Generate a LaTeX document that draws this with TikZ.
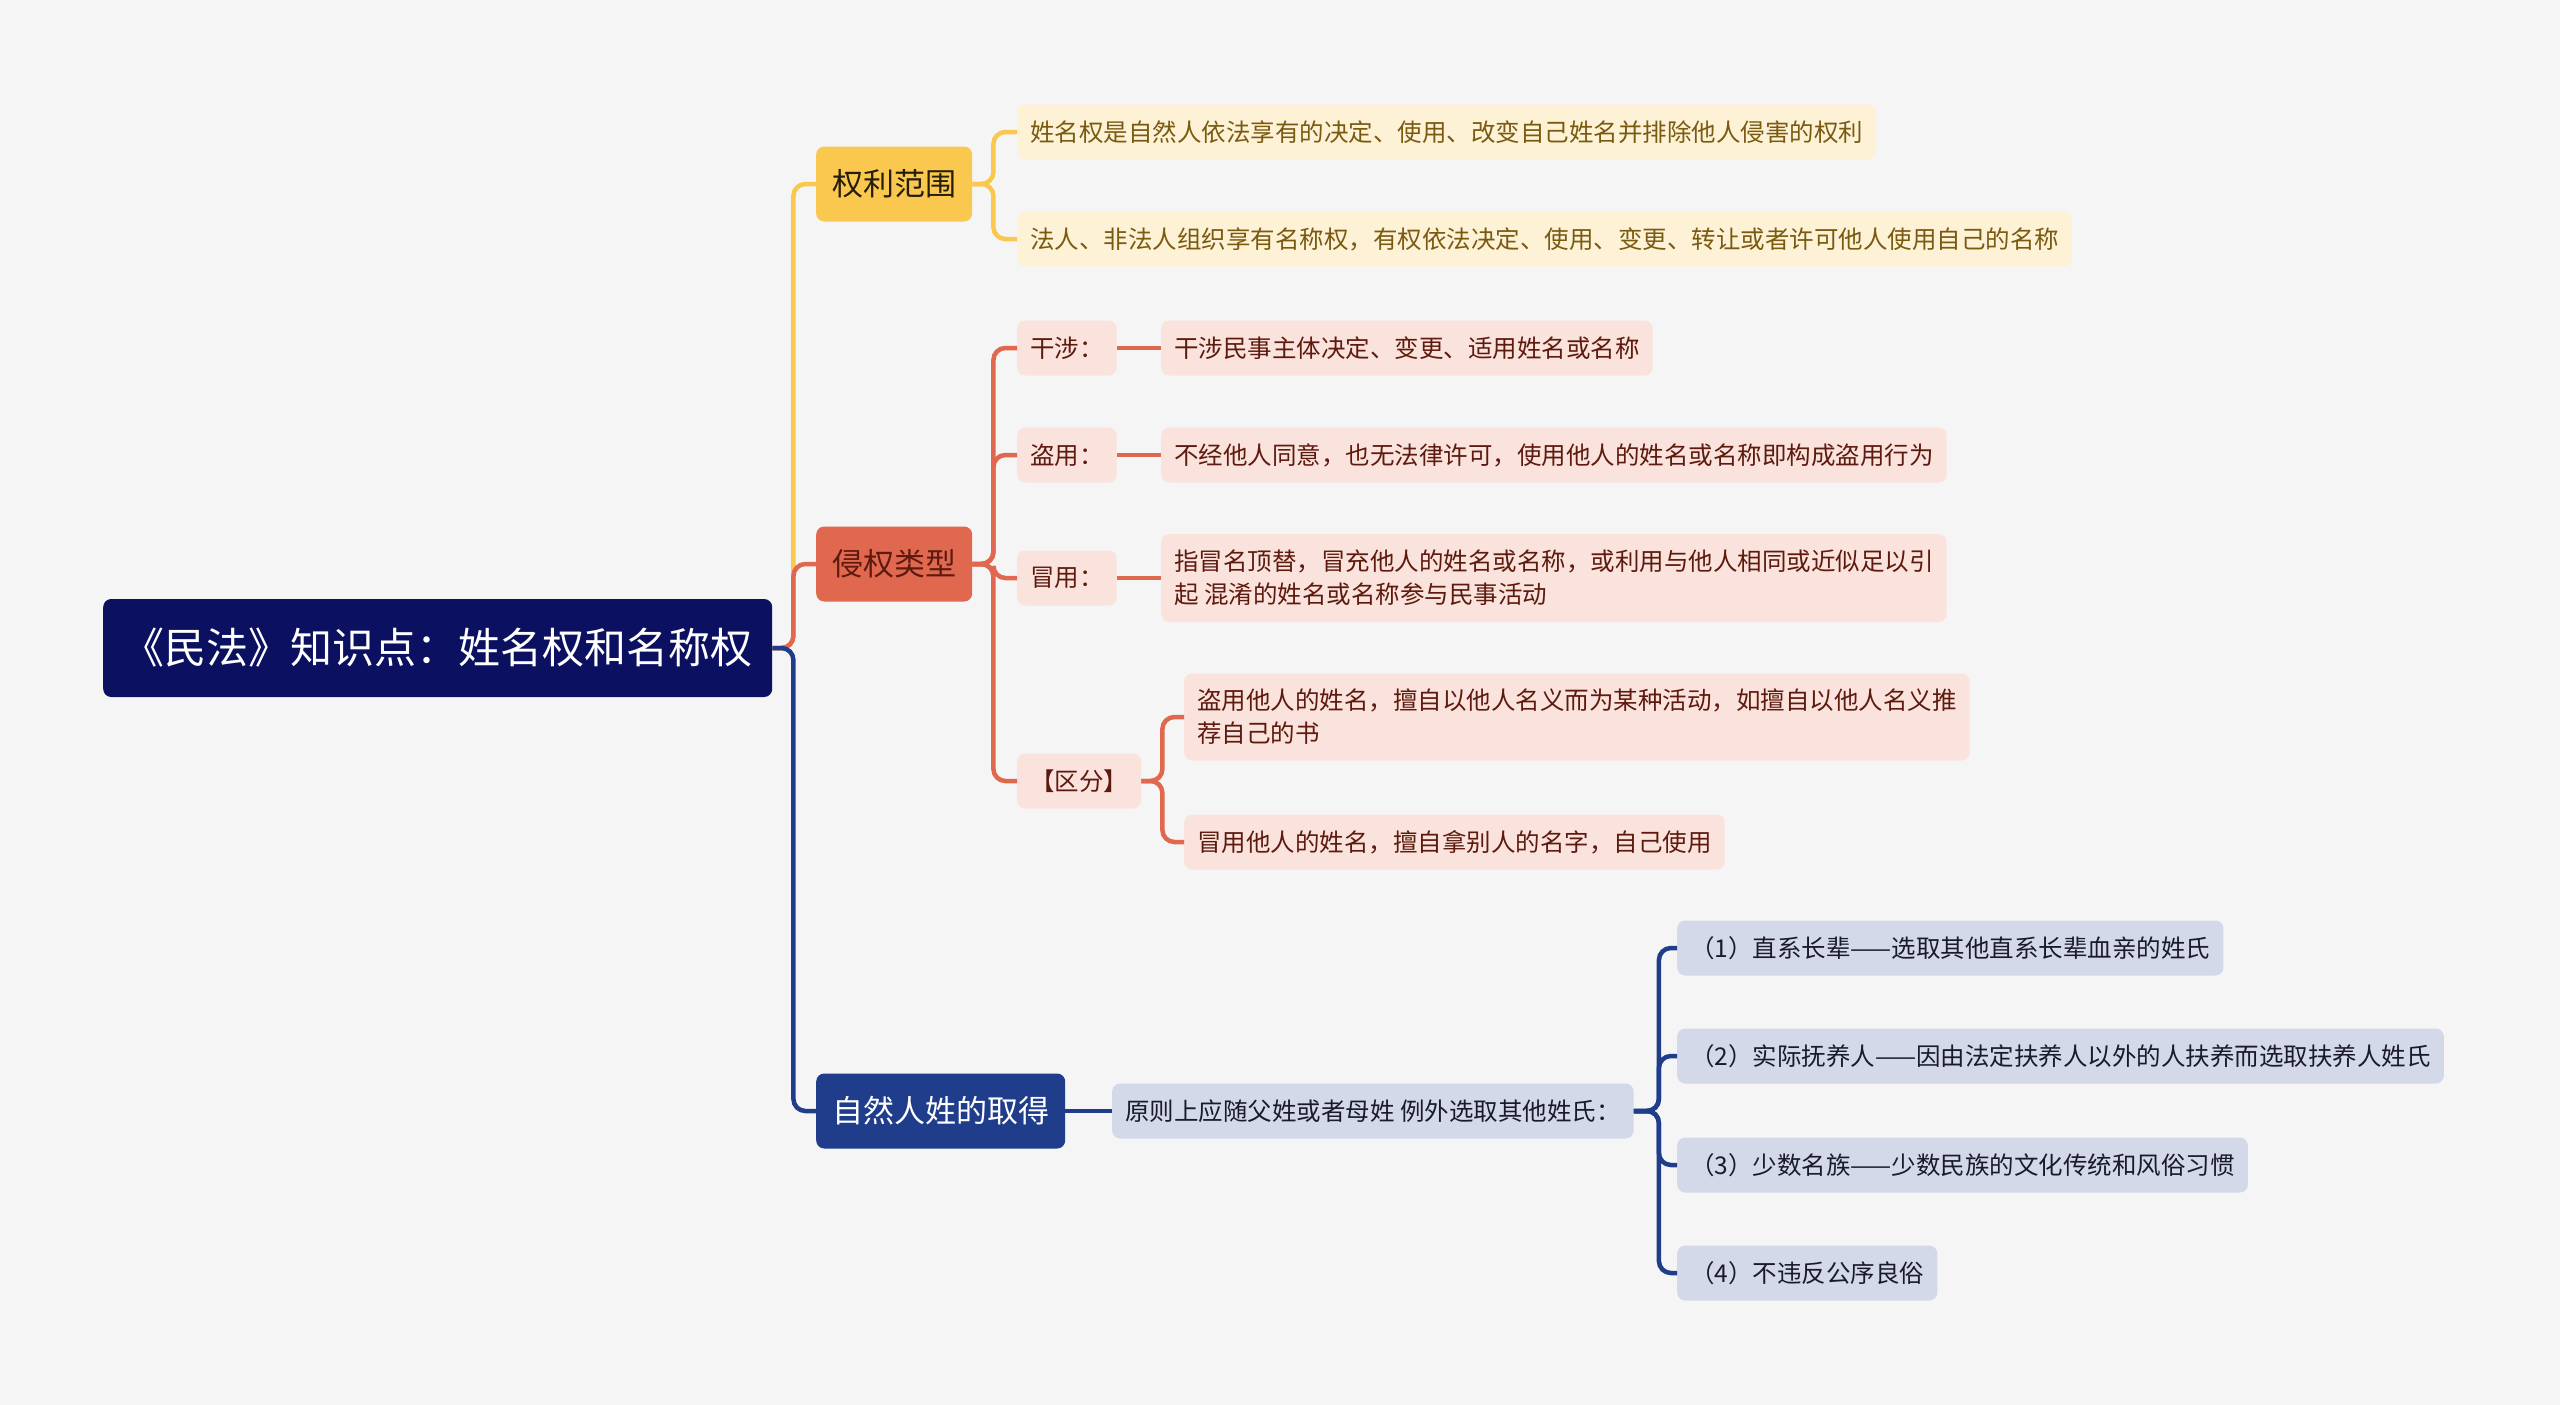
\documentclass[tikz,border=0pt]{standalone}
\usepackage{fontspec}
\setmainfont{Noto Sans CJK SC}
\definecolor{bg}{HTML}{F5F5F5}
\definecolor{rootc}{HTML}{0B1160}
\definecolor{yel}{HTML}{FAC84E}
\definecolor{yelleaf}{HTML}{FDF2D6}
\definecolor{yeltext}{HTML}{7A5A10}
\definecolor{red}{HTML}{E0684F}
\definecolor{redleaf}{HTML}{FAE3DC}
\definecolor{redtext}{HTML}{5E1A0E}
\definecolor{blu}{HTML}{1F3D8B}
\definecolor{bluleaf}{HTML}{D4D9E9}
\definecolor{blutext}{HTML}{1A1A2A}
\tikzset{
  rootbox/.style={fill=rootc, text=white, rounded corners=8pt, anchor=west,
    font=\fontsize{42}{48}\selectfont, minimum height=98pt, minimum width=669pt, inner xsep=0pt},
  lvone/.style={rounded corners=8pt, anchor=west, font=\fontsize{31}{38}\selectfont,
    minimum height=75pt, inner xsep=16pt},
  leaf/.style={rounded corners=8pt, anchor=west, font=\fontsize{24.5}{33}\selectfont,
    minimum height=55pt, inner xsep=13pt, inner ysep=0pt, align=left},
  yleaf/.style={leaf, fill=yelleaf, text=yeltext},
  rleaf/.style={leaf, fill=redleaf, text=redtext},
  bleaf/.style={leaf, fill=bluleaf, text=blutext},
  conn/.style={line width=4.5pt, rounded corners=12pt},
  yline/.style={conn, draw=yel},
  rline/.style={conn, draw=red},
  bline/.style={conn, draw=blu},
}
\begin{document}
\begin{tikzpicture}[x=1pt,y=-1pt]
\fill[bg] (0,0) rectangle (2560,1405);
\useasboundingbox (0,0) rectangle (2560,1405);

% root
\node[rootbox] (root) at (103,648) {《民法》知识点：姓名权和名称权};

% level 1
\node[lvone, fill=yel, text=black!85!yel] (qlfw) at (816,184) {权利范围};
\node[lvone, fill=red, text=redtext] (qqlx) at (816,564) {侵权类型};
\node[lvone, fill=blu, text=white] (zrr) at (816,1111) {自然人姓的取得};

% yellow leaves
\node[yleaf] (y1) at (1017,132) {姓名权是自然人依法享有的决定、使用、改变自己姓名并排除他人侵害的权利};
\node[yleaf] (y2) at (1017,239) {法人、非法人组织享有名称权，有权依法决定、使用、变更、转让或者许可他人使用自己的名称};

% red
\node[rleaf] (gs) at (1017,348) {干涉：};
\node[rleaf] (gsl) at (1161,348) {干涉民事主体决定、变更、适用姓名或名称};
\node[rleaf] (dy) at (1017,455) {盗用：};
\node[rleaf] (dyl) at (1161,455) {不经他人同意，也无法律许可，使用他人的姓名或名称即构成盗用行为};
\node[rleaf] (my) at (1017,578) {冒用：};
\node[rleaf, minimum height=88pt] (myl) at (1161,578) {指冒名顶替，冒充他人的姓名或名称，或利用与他人相同或近似足以引\\起 混淆的姓名或名称参与民事活动};
\node[rleaf] (qf) at (1017,781) {【区分】};
\node[rleaf, minimum height=87pt] (qf1) at (1184,717) {盗用他人的姓名，擅自以他人名义而为某种活动，如擅自以他人名义推\\荐自己的书};
\node[rleaf] (qf2) at (1184,842) {冒用他人的姓名，擅自拿别人的名字，自己使用};

% blue
\node[bleaf] (yz) at (1112,1111) {原则上应随父姓或者母姓 例外选取其他姓氏：};
\node[bleaf] (b1) at (1677,948) {（1）直系长辈——选取其他直系长辈血亲的姓氏};
\node[bleaf] (b2) at (1677,1056) {（2）实际抚养人——因由法定扶养人以外的人扶养而选取扶养人姓氏};
\node[bleaf] (b3) at (1677,1165) {（3）少数名族——少数民族的文化传统和风俗习惯};
\node[bleaf] (b4) at (1677,1273) {（4）不违反公序良俗};

% trunk connectors
\draw[yline] (root.east) -- ++(21,0) |- (qlfw.west);
\draw[rline] (root.east) -- ++(21,0) |- (qqlx.west);
\draw[bline] (root.east) -- ++(21,0) |- (zrr.west);

% yellow children
\draw[yline] (qlfw.east) -- ++(21,0) |- (y1.west);
\draw[yline] (qlfw.east) -- ++(21,0) |- (y2.west);

% red children
\draw[rline] (qqlx.east) -- ++(21,0) |- (gs.west);
\draw[rline] (qqlx.east) -- ++(21,0) |- (dy.west);
\draw[rline] (qqlx.east) -- ++(21,0) |- (my.west);
\draw[rline] (qqlx.east) -- ++(21,0) |- (qf.west);
\draw[rline] (gs.east) -- (gsl.west);
\draw[rline] (dy.east) -- (dyl.west);
\draw[rline] (my.east) -- (myl.west);
\draw[rline] (qf.east) -- ++(21,0) |- (qf1.west);
\draw[rline] (qf.east) -- ++(21,0) |- (qf2.west);

% blue children
\draw[bline] (zrr.east) -- (yz.west);
\draw[bline] (yz.east) -- ++(25,0) |- (b1.west);
\draw[bline] (yz.east) -- ++(25,0) |- (b2.west);
\draw[bline] (yz.east) -- ++(25,0) |- (b3.west);
\draw[bline] (yz.east) -- ++(25,0) |- (b4.west);
\end{tikzpicture}
\end{document}
